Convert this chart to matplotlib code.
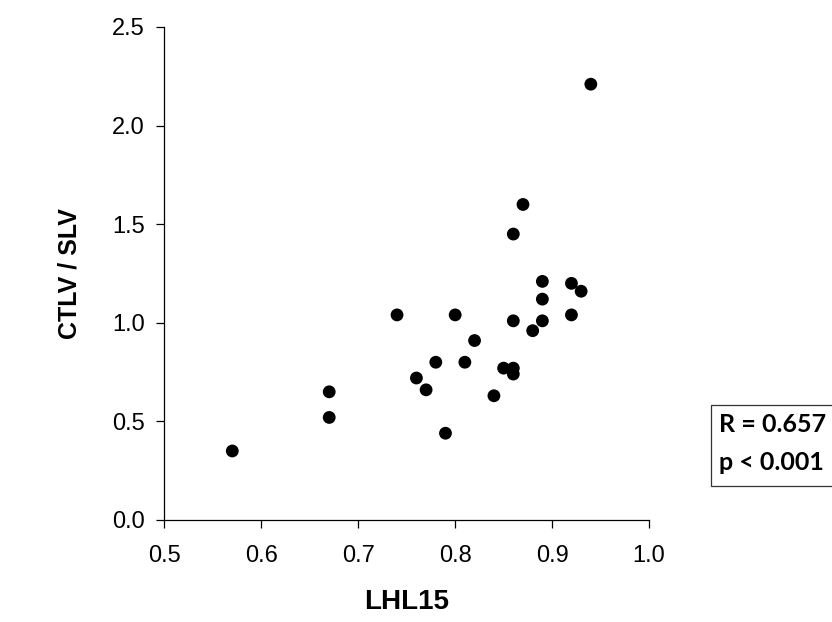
import matplotlib
matplotlib.use("Agg")
import matplotlib.pyplot as plt
from matplotlib.patches import Rectangle

lhl15 = [0.57, 0.67, 0.67, 0.74, 0.80, 0.82, 0.78, 0.81, 0.76, 0.77, 0.79, 0.84,
         0.87, 0.86, 0.89, 0.89, 0.89, 0.92, 0.92, 0.93, 0.86, 0.88, 0.85, 0.86,
         0.86, 0.94]
ctlv_slv = [0.35, 0.65, 0.52, 1.04, 1.04, 0.91, 0.80, 0.80, 0.72, 0.66, 0.44, 0.63,
            1.60, 1.45, 1.21, 1.12, 1.01, 1.20, 1.04, 1.16, 1.01, 0.96, 0.77, 0.77,
            0.74, 2.21]
xticks = [0.5, 0.6, 0.7, 0.8, 0.9, 1.0]
yticks = [0.0, 0.5, 1.0, 1.5, 2.0, 2.5]
stats_lines = ["R = 0.657", "p < 0.001"]

plt.rcParams["font.family"] = ["Liberation Sans", "DejaVu Sans"]

fig = plt.figure(figsize=(8.32, 6.22), dpi=100)
ax = fig.add_axes([0.1977, 0.164, 0.5823, 0.7926])
ax.scatter(lhl15, ctlv_slv, s=85, color="black", edgecolors="none", zorder=3, clip_on=False)
ax.set_xlim(0.5, 1.0)
ax.set_ylim(0.0, 2.5)
ax.set_xticks(xticks)
ax.set_yticks(yticks)
ax.set_xticklabels([f"{v:.1f}" for v in xticks])
ax.set_yticklabels([f"{v:.1f}" for v in yticks])
for side in ["top", "right"]:
    ax.spines[side].set_visible(False)
for side in ["left", "bottom"]:
    ax.spines[side].set_linewidth(0.9)
ax.tick_params(direction="out", length=6, width=0.9, labelsize=17, colors="black")
ax.tick_params(axis="x", pad=12)
ax.tick_params(axis="y", pad=8)
ax.set_xlabel("LHL15", fontweight="bold", fontsize=20, labelpad=16)
ax.set_ylabel("CTLV / SLV", fontweight="bold", fontsize=18, labelpad=22)

# statistics box (extends past the right edge like the reference)
W, H = 832.0, 622.0
box = Rectangle((711 / W, 1 - 486 / H), 200 / W, 81 / H, transform=fig.transFigure,
                facecolor="white", edgecolor="#333333", linewidth=0.9, clip_on=False)
fig.patches.append(box)
fig.text(719 / W, 1 - 425 / H, stats_lines[0], fontfamily="Lato", fontweight="bold",
         fontsize=18, ha="left", va="center")
fig.text(719 / W, 1 - 463 / H, stats_lines[1], fontfamily="Lato", fontweight="bold",
         fontsize=18, ha="left", va="center")

fig.savefig("out.png", dpi=100)
